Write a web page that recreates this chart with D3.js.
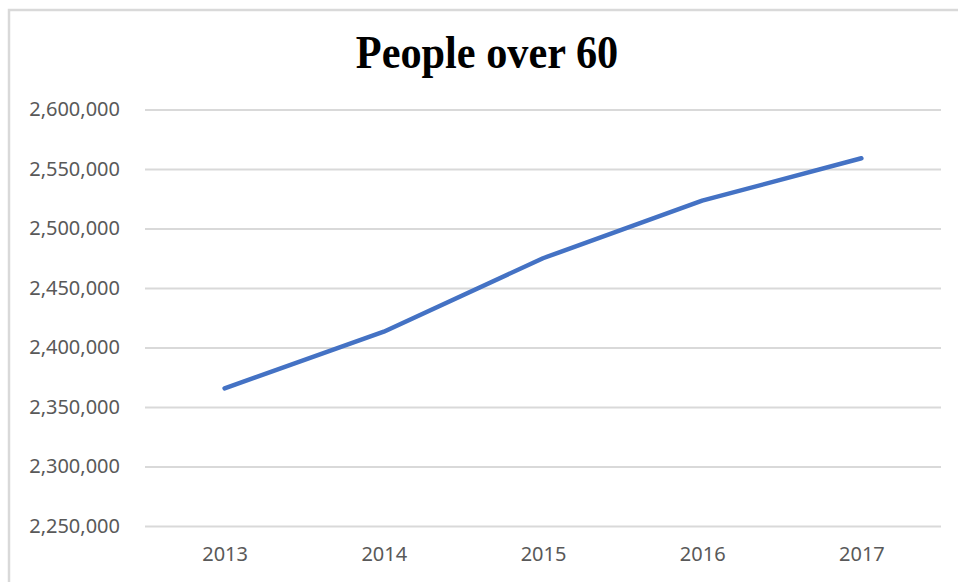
<!DOCTYPE html>
<html><head><meta charset="utf-8">
<script src="https://cdn.jsdelivr.net/npm/d3@7"></script>
<style>html,body{margin:0;padding:0;background:#fff;overflow:hidden}</style>
</head><body>
<svg id="chart" width="958" height="582"></svg>
<script>
const title = "People over 60";
const years = ["2013", "2014", "2015", "2016", "2017"];
const values = [2365700, 2413300, 2475000, 2523400, 2559000];
const yTicks = [2250000, 2300000, 2350000, 2400000, 2450000, 2500000, 2550000, 2600000];

const svg = d3.select("#chart");
const W = 958, H = 582;
const m = {left: 145, right: 17, top: 109.5, bottom: 56};

svg.append("rect").attr("x", 9).attr("y", 10).attr("width", 980).attr("height", 620)
  .attr("fill", "#fff").attr("stroke", "#d9d9d9").attr("stroke-width", 2.5);

const x = d3.scalePoint().domain(years).range([m.left, W - m.right]).padding(0.5);
const y = d3.scaleLinear().domain([2250000, 2600000]).range([H - m.bottom, m.top]);

const fmt = d3.format(",");
const yAxis = d3.axisLeft(y).tickValues(yTicks).tickFormat(fmt).tickSize(-(W - m.right - m.left)).tickPadding(25);
const gy = svg.append("g").attr("transform", `translate(${m.left},0)`).call(yAxis);
gy.select(".domain").remove();
gy.selectAll(".tick line").attr("stroke", "#d9d9d9").attr("stroke-width", 2.2);
gy.selectAll(".tick text").attr("fill", "#595959").attr("font-family", "'Noto Sans', sans-serif").attr("font-size", 20);

const xAxis = d3.axisBottom(x).tickSize(0).tickPadding(21);
const gx = svg.append("g").attr("transform", `translate(0,${H - m.bottom})`).call(xAxis);
gx.select(".domain").remove();
gx.selectAll(".tick text").attr("fill", "#595959").attr("font-family", "'Noto Sans', sans-serif").attr("font-size", 20);

const line = d3.line().x((d, i) => x(years[i])).y(d => y(d));
svg.append("path").datum(values).attr("d", line).attr("fill", "none")
  .attr("stroke", "#4472C4").attr("stroke-width", 4.5).attr("stroke-linecap", "round").attr("stroke-linejoin", "round");

svg.append("text").attr("transform", "translate(487,68) scale(0.92,1)").attr("text-anchor", "middle")
  .attr("font-family", "'Liberation Serif', 'Times New Roman', serif").attr("font-weight", "bold")
  .attr("font-size", 46).attr("fill", "#000").text(title);
</script>
</body></html>
